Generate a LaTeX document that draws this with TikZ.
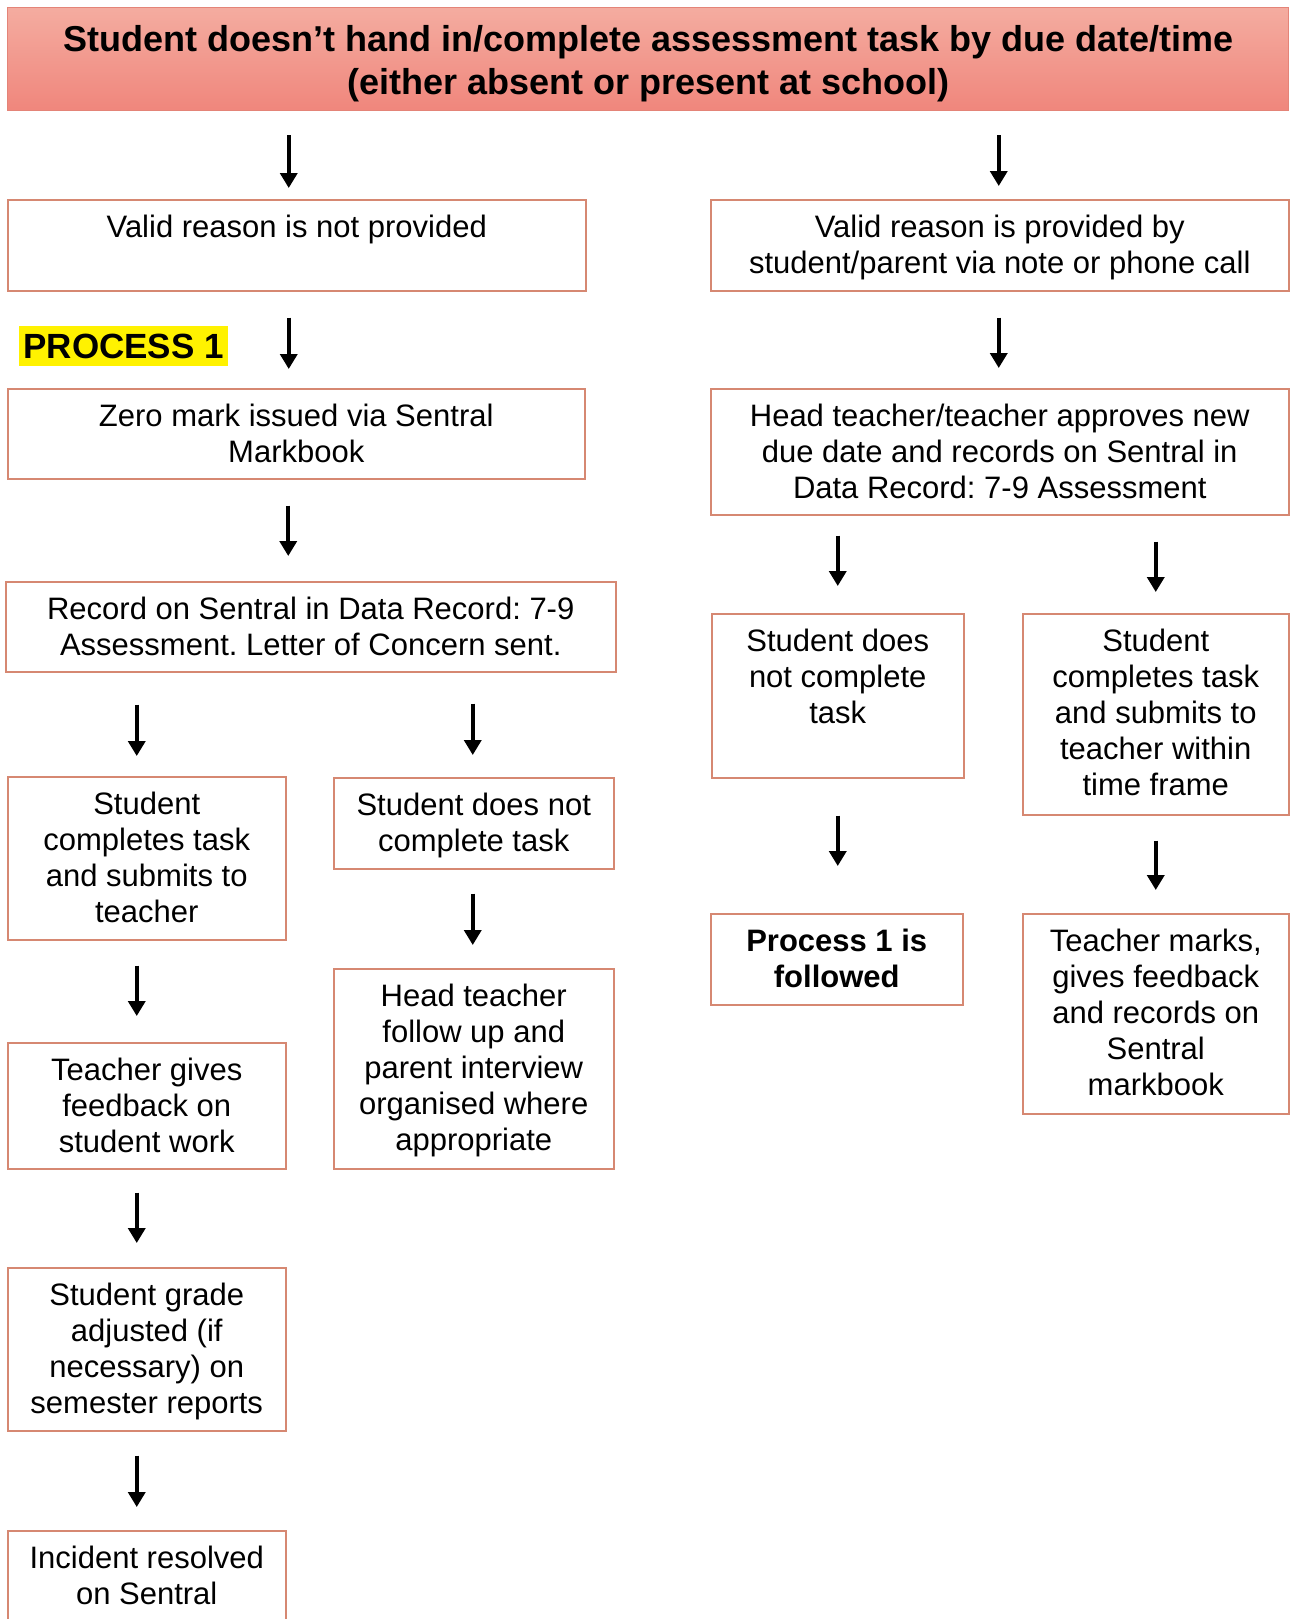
\documentclass[tikz,border=0pt]{standalone}
\usepackage{fontspec}
\setmainfont{Liberation Sans}
\frenchspacing
\usetikzlibrary{arrows.meta,shadings}
\definecolor{bxline}{RGB}{214,136,114}
\definecolor{ttop}{RGB}{244,172,160}
\definecolor{tbot}{RGB}{240,134,124}
\definecolor{tline}{RGB}{228,132,120}
\newcommand\bt[3]{\parbox[c][#2pt][t]{#1pt}{\centering\fontsize{31}{36}\selectfont\rule{0pt}{38pt}#3}}
\tikzset{
  bx/.style={draw=bxline, line width=1.5pt, inner sep=0pt, anchor=north west, fill=white},
  arr/.style={line width=3.6pt, -{Triangle[width=17pt,length=15pt]}},
}
\begin{document}
\begin{tikzpicture}[x=1pt,y=-1pt]
\useasboundingbox (0,0) rectangle (1290,1619);
\clip (0,0) rectangle (1290,1619);
\fill[white] (0,0) rectangle (1290,1619);
% title
\node[draw=tline, line width=1.4pt, top color=ttop, bottom color=tbot, anchor=north west, inner sep=0pt] (T) at (7,7)
  {\parbox[c][103pt][t]{1281pt}{\centering\fontsize{36}{43}\selectfont\bfseries\rule{0pt}{44pt}Student doesn’t hand in/complete assessment task by due date/time\\(either absent or present at school)}};
% boxes
\node[bx] (A) at (7,199) {\bt{578}{91}{Valid reason is not provided}};
\node[bx] (B) at (710,199) {\bt{578}{91}{Valid reason is provided by\\student/parent via note or phone call}};
\node[fill=yellow, inner sep=0pt, minimum width=209pt, minimum height=40pt, anchor=north west,
  font=\fontsize{35}{40}\selectfont\bfseries] (P) at (19,326) {PROCESS 1};
\node[bx] (C) at (7,388) {\bt{577}{90}{Zero mark issued via Sentral\\Markbook}};
\node[bx] (D) at (710,388) {\bt{578}{126}{Head teacher/teacher approves new\\due date and records on Sentral in\\Data Record: 7-9 Assessment}};
\node[bx] (E) at (5,581) {\bt{610}{90}{Record on Sentral in Data Record: 7-9\\Assessment. Letter of Concern sent.}};
\node[bx] (F) at (711,613) {\bt{252}{164}{Student does\\not complete\\task}};
\node[bx] (G) at (1022,613) {\bt{266}{201}{Student\\completes task\\and submits to\\teacher within\\time frame}};
\node[bx] (H) at (7,776) {\bt{278}{163}{Student\\completes task\\and submits to\\teacher}};
\node[bx] (I) at (333,777) {\bt{280}{91}{Student does not\\complete task}};
\node[bx] (J) at (710,913) {\bt{252}{91}{\bfseries Process 1 is\\followed}};
\node[bx] (K) at (1022,913) {\bt{266}{200}{Teacher marks,\\gives feedback\\and records on\\Sentral\\markbook}};
\node[bx] (L) at (333,968) {\bt{280}{200}{Head teacher\\follow up and\\parent interview\\organised where\\appropriate}};
\node[bx] (M) at (7,1042) {\bt{278}{126}{Teacher gives\\feedback on\\student work}};
\node[bx] (N) at (7,1267) {\bt{278}{163}{Student grade\\adjusted (if\\necessary) on\\semester reports}};
\node[bx] (O) at (7,1530) {\bt{278}{120}{Incident resolved\\on Sentral}};
% arrows
\draw[arr, shorten <=24pt, shorten >=11pt] ([xshift=-8pt]A.north |- T.south) -- ([xshift=-8pt]A.north);
\draw[arr, shorten <=24pt, shorten >=13pt] ([xshift=-1pt]B.north |- T.south) -- ([xshift=-1pt]B.north);
\draw[arr, shorten <=26pt, shorten >=19pt] ([xshift=-8pt]A.south) -- ([xshift=-8pt]A.south |- C.north);
\draw[arr, shorten <=26pt, shorten >=20pt] ([xshift=-1pt]B.south) -- ([xshift=-1pt]B.south |- D.north);
\draw[arr, shorten <=26pt, shorten >=25pt] ([xshift=-8pt]C.south) -- ([xshift=-8pt]C.south |- E.north);
\draw[arr, shorten <=20pt, shorten >=27pt] (F.north |- D.south) -- (F.north);
\draw[arr, shorten <=26pt, shorten >=21pt] (G.north |- D.south) -- (G.north);
\draw[arr, shorten <=32pt, shorten >=20pt] ([xshift=-10pt]H.north |- E.south) -- ([xshift=-10pt]H.north);
\draw[arr, shorten <=31pt, shorten >=22pt] ([xshift=-1pt]I.north |- E.south) -- ([xshift=-1pt]I.north);
\draw[arr, shorten <=37pt, shorten >=47pt] (F.south) -- (F.south |- J.north);
\draw[arr, shorten <=25pt, shorten >=23pt] (G.south) -- (G.south |- K.north);
\draw[arr, shorten <=24pt, shorten >=23pt] ([xshift=-1pt]I.south) -- ([xshift=-1pt]I.south |- L.north);
\draw[arr, shorten <=25pt, shorten >=26pt] ([xshift=-10pt]H.south) -- ([xshift=-10pt]H.south |- M.north);
\draw[arr, shorten <=23pt, shorten >=24pt] ([xshift=-10pt]M.south) -- ([xshift=-10pt]M.south |- N.north);
\draw[arr, shorten <=24pt, shorten >=23pt] ([xshift=-10pt]N.south) -- ([xshift=-10pt]N.south |- O.north);
\end{tikzpicture}
\end{document}
